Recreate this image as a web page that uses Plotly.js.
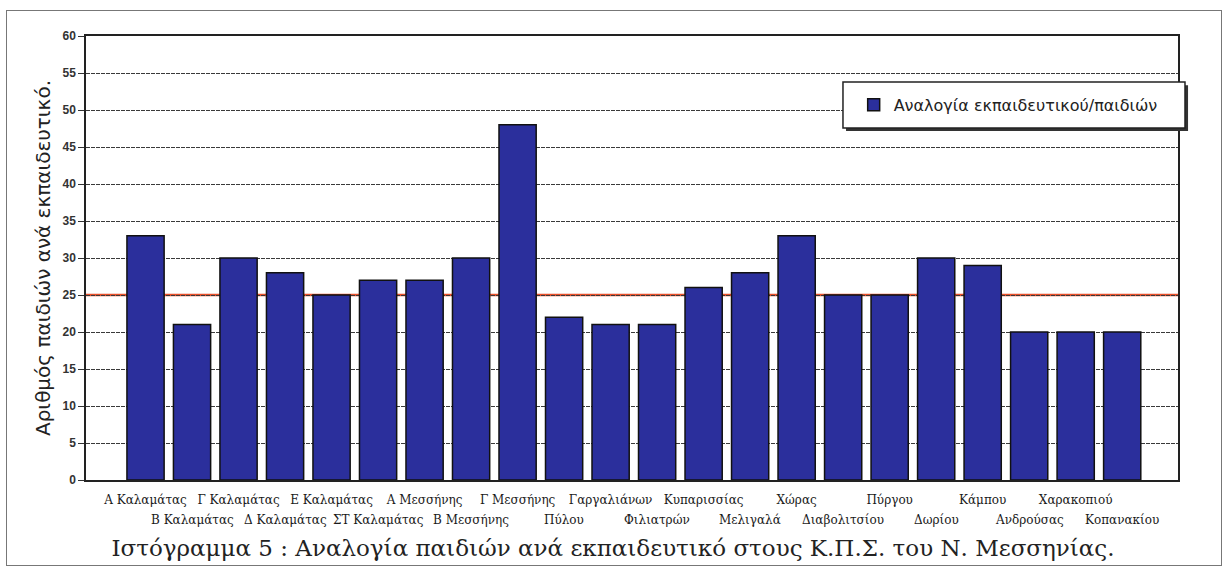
<!DOCTYPE html>
<html>
<head>
<meta charset="utf-8">
<script src="https://cdn.plot.ly/plotly-3.0.1.min.js"></script>
<style>
  body { margin: 0; background: #fff; }
  #frame { position: absolute; left: 6px; top: 10px; width: 1214px; height: 554px;
           border: 1.5px solid #777; pointer-events: none; z-index: 2; }
  #plot { position: absolute; left: 0; top: 0; width: 1226px; height: 571px; }
</style>
</head>
<body>
<div id="plot"></div>
<div id="frame"></div>
<script>
// one bar per centre
const centres = [
    'Α Καλαμάτας', 'Β Καλαμάτας', 'Γ Καλαμάτας', 'Δ Καλαμάτας', 'Ε Καλαμάτας',
    'ΣΤ Καλαμάτας', 'Α Μεσσήνης', 'Β Μεσσήνης', 'Γ Μεσσήνης', 'Πύλου',
    'Γαργαλιάνων', 'Φιλιατρών', 'Κυπαρισσίας', 'Μελιγαλά', 'Χώρας',
    'Διαβολιτσίου', 'Πύργου', 'Δωρίου', 'Κάμπου', 'Ανδρούσας',
    'Χαρακοπιού', 'Κοπανακίου'
];
const ratio = [33, 21, 30, 28, 25, 27, 27, 30, 48, 22, 21, 21, 26, 28, 33, 25, 25, 30, 29, 20, 20, 20];
const refLine = 25;
const yTicks = [0, 5, 10, 15, 20, 25, 30, 35, 40, 45, 50, 55, 60];

// labels alternate between two rows
const topRow = centres.filter((c, i) => i % 2 === 0);
const bottomRow = centres.filter((c, i) => i % 2 === 1);

const bars = {
    x: centres,
    y: ratio,
    type: 'bar',
    name: 'Αναλογία εκπαιδευτικού/παιδιών',
    marker: { color: '#2b2f9c', line: { color: '#111', width: 1.5 } }
};

const labelFont = { family: 'DejaVu Serif, serif', size: 12, color: '#1a1a1a' };

const layout = {
    width: 1226,
    height: 571,
    margin: { l: 86, r: 48, t: 36, b: 91 },
    paper_bgcolor: '#fff',
    plot_bgcolor: '#fff',
    bargap: 0.2,
    showlegend: true,
    font: { family: 'DejaVu Sans, sans-serif', color: '#222' },
    title: {
        text: 'Ιστόγραμμα 5 : Αναλογία παιδιών ανά εκπαιδευτικό στους Κ.Π.Σ. του Ν. Μεσσηνίας.',
        font: { family: 'DejaVu Serif, serif', size: 23, color: '#222' },
        x: 0.5, xref: 'container',
        y: 0.04, yref: 'container', yanchor: 'middle'
    },
    xaxis: {
        type: 'category',
        range: [-1.28, 22.2],
        tickmode: 'array',
        tickvals: topRow,
        ticktext: topRow,
        tickangle: 0,
        tickfont: labelFont,
        ticklabelstandoff: 8,
        showgrid: false,
        showline: true, mirror: true, linecolor: '#222', linewidth: 1.5,
        ticks: ''
    },
    yaxis: {
        range: [0, 60],
        tickvals: yTicks,
        tickfont: { family: 'Liberation Sans, Arial, sans-serif', size: 12, weight: 'bold', color: '#333' },
        ticks: 'outside', ticklen: 6, tickcolor: '#333',
        showgrid: true, gridcolor: '#3a3a3a', gridwidth: 1, griddash: '4px,1px',
        showline: true, mirror: true, linecolor: '#222', linewidth: 1.5,
        zeroline: false,
        title: {
            text: 'Αριθμός παιδιών ανά εκπαιδευτικό.',
            font: { family: 'DejaVu Sans, sans-serif', size: 20, color: '#222' },
            standoff: 6
        }
    },
    legend: {
        x: 0.703, y: 0.845, xanchor: 'left', yanchor: 'middle',
        bgcolor: 'rgba(0,0,0,0)', borderwidth: 0,
        font: { family: 'DejaVu Sans, sans-serif', size: 16, color: '#222' }
    },
    shapes: [
        // 25 reference line, behind the bars
        { type: 'line', layer: 'below', xref: 'paper', x0: 0, x1: 1, yref: 'y', y0: refLine, y1: refLine,
          line: { color: '#e8502c', width: 2.5 } },
        // legend box shadow + box
        { type: 'rect', layer: 'above', xref: 'paper', yref: 'paper',
          x0: 0.696, x1: 1.0092, y0: 0.786, y1: 0.889,
          fillcolor: '#333', line: { width: 0 } },
        { type: 'rect', layer: 'above', xref: 'paper', yref: 'paper',
          x0: 0.6932, x1: 1.0064, y0: 0.7928, y1: 0.8964,
          fillcolor: '#fff', line: { color: '#222', width: 1.5 } }
    ],
    annotations: bottomRow.map(c => ({
        x: c, xref: 'x', y: 0, yref: 'paper',
        yanchor: 'top', yshift: -31,
        text: c, showarrow: false, font: labelFont
    }))
};

Plotly.newPlot('plot', [bars], layout, { displayModeBar: false });
</script>
</body>
</html>
